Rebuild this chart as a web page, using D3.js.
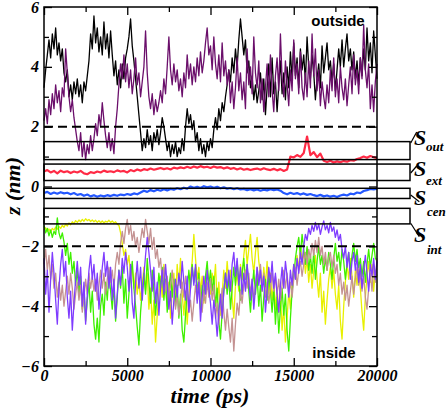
<!DOCTYPE html>
<html><head><meta charset="utf-8">
<script src="https://cdn.jsdelivr.net/npm/d3@7"></script>
<style>body{margin:0;background:#fff}svg{display:block}</style>
</head><body>
<svg id="c" width="448" height="410"></svg>
<script>
// each series spans 0..20000 ps, evenly sampled
const black = [
3.3,3.9,4.4,4.9,4.3,5.1,4.6,5.3,4.4,4.8,
4.2,4.6,3.8,3.5,3.9,3.0,3.4,2.9,3.5,3.1,
3.6,3.0,3.4,2.8,3.5,3.2,3.7,4.2,5.1,4.6,
5.7,4.8,5.3,4.5,5.0,4.4,5.5,4.6,5.1,4.3,
5.2,4.4,3.7,4.2,3.4,3.9,3.3,4.1,3.6,4.3,
4.6,5.0,5.6,4.7,4.2,3.6,3.0,2.4,1.8,1.2,
1.6,1.3,1.9,1.4,1.7,1.2,1.8,1.5,1.9,1.4,
1.8,2.3,2.0,1.6,1.2,1.5,1.0,1.4,1.1,1.5,
1.0,1.3,1.1,1.6,1.2,2.0,2.6,2.1,2.4,1.9,
2.2,1.5,1.8,1.2,1.6,1.1,1.4,1.0,1.5,1.2,
1.6,1.3,1.9,2.3,1.9,2.6,2.2,2.8,2.5,3.0,
3.4,3.9,3.5,4.3,3.8,4.6,4.0,4.9,5.6,5.0,
4.4,4.9,3.8,4.2,3.3,3.7,2.9,3.4,2.8,3.2,
3.8,2.9,3.6,2.4,3.3,4.1,3.0,4.3,3.1,3.5,
2.5,3.4,4.2,3.1,3.8,2.9,4.0,3.3,4.5,3.6,
4.8,3.7,4.3,3.3,4.6,3.9,4.4,3.5,5.0,4.0,
3.6,4.4,3.8,2.9,3.6,4.1,3.3,4.7,3.8,4.3,
4.8,3.9,4.2,3.5,4.1,3.2,3.9,4.6,4.0,4.9,
4.0,4.6,5.1,4.2,4.6,3.9,4.5,3.6,4.2,3.4,
4.3,3.7,4.6,3.9,5.3,4.2,4.8,3.8,5.2,4.4,
3.6];
const purple = [
2.2,2.6,2.1,2.9,2.4,3.1,2.6,3.4,2.8,3.2,
2.5,3.3,3.0,4.6,3.8,3.0,2.5,2.9,2.3,1.9,
1.5,1.2,1.8,1.0,1.5,0.9,1.4,1.1,1.7,1.2,
1.6,2.1,1.7,2.4,2.0,2.8,2.2,1.7,1.3,1.8,
1.2,1.6,1.1,2.0,2.6,3.4,4.1,3.6,4.4,3.5,
4.1,3.3,3.9,3.1,3.6,4.3,3.4,3.8,3.0,3.5,
4.0,5.2,3.8,3.0,2.6,3.1,2.4,2.9,2.5,2.8,
3.2,2.8,3.6,3.1,4.0,5.0,3.9,3.4,4.1,3.5,
3.9,3.2,3.6,3.0,3.8,3.3,4.4,3.6,4.1,3.4,
4.0,3.5,4.3,3.7,4.5,3.8,4.2,4.8,5.3,4.4,
4.7,3.9,5.0,4.1,3.6,4.4,3.5,4.8,3.7,4.2,
3.4,3.9,2.8,3.5,2.6,3.3,4.3,3.2,3.8,2.9,
3.5,2.6,4.6,3.4,4.0,3.1,5.0,3.8,3.3,4.2,
2.8,3.6,2.5,3.3,4.1,3.0,4.4,3.2,2.5,3.7,
4.3,3.2,5.1,3.6,3.0,4.2,3.4,2.7,3.9,3.2,
4.9,3.6,4.1,3.1,4.5,3.3,2.9,3.8,3.0,4.2,
3.3,5.1,3.7,4.6,3.2,3.9,2.7,3.5,3.0,2.6,
3.4,2.8,3.9,3.2,4.3,3.0,3.6,2.8,4.0,3.3,
2.9,3.6,2.7,3.4,4.0,3.1,4.4,3.4,3.9,3.1,
4.3,3.6,5.4,3.9,3.3,4.1,2.6,3.4,2.5,3.5,
4.1];
const red = [0.50,0.55,0.47,0.52,0.44,0.53,0.48,0.51,0.45,0.50,0.47,0.52,0.44,0.41,0.48,0.45,0.50,0.47,0.53,0.49,0.51,0.48,0.54,0.50,0.52,0.47,0.55,0.51,0.57,0.53,0.58,0.55,0.60,0.56,0.59,0.62,0.58,0.61,0.57,0.63,0.60,0.64,0.61,0.66,0.62,0.67,0.63,0.68,0.64,0.66,0.62,0.67,0.63,0.65,0.60,0.64,0.59,0.62,0.57,0.61,0.56,0.59,0.55,0.58,0.60,0.56,0.61,0.57,0.55,0.59,0.54,0.58,0.52,0.57,1.00,0.97,1.05,0.99,1.12,1.67,1.05,1.15,0.98,1.10,0.86,0.82,0.86,0.80,0.84,0.81,0.85,0.83,0.88,0.86,0.92,0.95,1.00,0.96,1.02,0.98,0.95];
const blue = [-0.22,-0.18,-0.25,-0.20,-0.24,-0.19,-0.23,-0.21,-0.26,-0.22,-0.28,-0.25,-0.31,-0.27,-0.33,-0.29,-0.34,-0.30,-0.33,-0.29,-0.32,-0.28,-0.31,-0.27,-0.29,-0.25,-0.28,-0.23,-0.26,-0.20,-0.14,-0.18,-0.12,-0.16,-0.11,-0.14,-0.09,-0.13,-0.08,-0.11,-0.06,-0.09,-0.04,-0.07,0.00,-0.04,-0.01,-0.05,0.01,-0.03,0.00,-0.04,-0.01,-0.06,-0.03,-0.07,-0.05,-0.09,-0.06,-0.10,-0.08,-0.12,-0.09,-0.13,-0.10,-0.14,-0.11,-0.13,-0.09,-0.12,-0.10,-0.14,-0.22,-0.26,-0.21,-0.25,-0.22,-0.27,-0.23,-0.28,-0.25,-0.29,-0.32,-0.28,-0.33,-0.30,-0.34,-0.31,-0.35,-0.30,-0.27,-0.30,-0.24,-0.26,-0.20,-0.22,-0.15,-0.12,-0.08,-0.10,-0.07];
const yellow = [
-1.45,-1.38,-1.50,-1.42,-1.52,-1.40,-1.46,-1.36,-1.43,-1.33,
-1.40,-1.30,-1.36,-1.26,-1.32,-1.22,-1.28,-1.18,-1.24,-1.14,
-1.20,-1.12,-1.18,-1.10,-1.16,-1.08,-1.14,-1.10,-1.17,-1.12,
-1.18,-1.13,-1.20,-1.14,-1.21,-1.15,-1.22,-1.16,-1.19,-1.13,
-1.20,-1.15,-1.22,-1.18,-1.26,-1.30,-1.55,-1.90,-2.30,-2.10,
-2.60,-2.30,-3.00,-2.70,-3.40,-2.90,-3.60,-3.10,-3.80,-3.30,
-2.70,-3.50,-2.90,-4.10,-3.40,-4.60,-3.80,-5.20,-4.30,-3.60,
-3.00,-3.70,-2.60,-3.40,-4.00,-3.20,-4.40,-3.50,-2.90,-3.80,
-2.60,-3.30,-2.40,-3.60,-4.30,-3.50,-4.60,-3.70,-3.00,-2.50,
-1.60,-2.40,-3.10,-2.70,-3.50,-3.00,-3.90,-3.20,-2.70,-3.40,
-3.60,-2.90,-3.30,-2.60,-3.90,-3.20,-4.30,-3.60,-2.80,-3.40,
-2.50,-3.20,-2.80,-3.70,-4.40,-3.30,-2.90,-3.50,-2.60,-3.10,
-2.30,-1.80,-2.60,-2.10,-1.60,-2.40,-2.90,-2.20,-1.70,-2.50,
-2.90,-3.50,-2.70,-3.30,-2.50,-3.60,-2.90,-3.80,-3.20,-4.10,
-3.40,-4.20,-3.60,-4.80,-4.00,-5.20,-4.40,-3.50,-4.10,-3.20,
-2.60,-3.00,-2.30,-2.80,-2.00,-2.50,-2.20,-2.90,-2.40,-3.20,
-2.60,-3.40,-2.80,-2.30,-3.10,-3.70,-2.90,-4.20,-3.50,-4.60,
-3.80,-3.10,-2.70,-3.40,-2.80,-3.60,-4.10,-3.30,-4.50,-5.10,
-4.00,-3.20,-2.60,-3.10,-2.40,-3.00,-3.70,-2.80,-3.30,-2.60,
-3.40,-4.20,-4.80,-3.70,-3.00,-2.50,-3.20,-2.60,-3.50,-2.80,
-3.00];
const green = [
-1.30,-1.55,-1.40,-1.65,-1.45,-1.70,-1.50,-1.60,-1.05,-1.55,
-1.75,-1.55,-1.85,-2.30,-1.90,-2.60,-2.20,-2.90,-2.50,-3.30,
-2.80,-3.60,-3.00,-4.10,-3.40,-4.50,-3.80,-3.20,-4.20,-3.50,
-4.60,-5.10,-4.40,-5.20,-4.00,-3.60,-4.30,-3.20,-3.80,-2.90,
-3.50,-4.10,-3.30,-4.50,-3.70,-2.80,-3.40,-2.70,-3.90,-3.10,
-4.40,-3.60,-3.00,-2.50,-3.40,-4.00,-4.70,-5.30,-4.20,-3.50,
-2.90,-3.60,-2.40,-3.20,-3.90,-2.80,-3.50,-4.30,-3.60,-2.90,
-3.40,-2.70,-3.80,-3.10,-4.20,-3.40,-2.90,-3.70,-3.10,-4.00,
-3.30,-4.40,-3.60,-4.80,-5.20,-4.30,-3.50,-2.80,-3.40,-2.60,
-3.20,-2.70,-3.60,-2.90,-4.10,-3.30,-3.80,-3.00,-2.50,-3.30,
-2.80,-3.50,-3.00,-4.00,-3.40,-4.50,-5.10,-4.20,-3.50,-2.90,
-3.60,-3.00,-4.10,-3.40,-2.70,-3.30,-2.50,-3.20,-3.80,-2.90,
-2.40,-3.10,-2.60,-3.50,-4.20,-3.40,-2.80,-3.60,-3.00,-4.00,
-3.30,-4.50,-3.70,-3.10,-3.80,-2.90,-3.50,-4.20,-3.40,-4.60,
-3.70,-4.90,-4.10,-3.40,-4.30,-3.60,-4.80,-5.50,-4.40,-3.50,
-3.00,-2.40,-2.00,-1.70,-2.30,-1.60,-2.10,-2.60,-2.00,-2.80,
-2.30,-2.90,-2.20,-3.10,-2.50,-2.00,-2.60,-2.30,-2.90,-2.40,
-2.80,-2.20,-2.60,-3.10,-2.40,-1.90,-2.50,-2.20,-2.80,-2.10,
-2.50,-3.10,-2.60,-2.20,-2.80,-2.30,-1.90,-2.50,-2.10,-2.70,
-2.40,-3.00,-2.50,-3.20,-2.60,-2.10,-2.70,-2.30,-1.90,-2.40,
-2.50];
const violet = [
-2.40,-3.60,-2.80,-4.20,-3.10,-2.20,-2.90,-3.80,-4.60,-3.40,
-2.60,-2.10,-3.00,-2.50,-3.70,-4.40,-3.50,-4.80,-3.90,-3.10,
-2.50,-3.30,-2.70,-4.00,-3.20,-4.60,-3.60,-2.80,-2.30,-3.10,
-2.60,-3.50,-2.90,-4.10,-3.40,-2.70,-2.20,-3.00,-2.50,-3.40,
-2.70,-3.80,-3.10,-4.40,-3.60,-2.80,-3.30,-2.40,-2.90,-2.20,
-2.70,-3.50,-2.60,-3.90,-4.40,-3.20,-2.50,-3.40,-2.70,-3.80,
-3.00,-2.30,-1.70,-2.20,-2.80,-3.50,-2.70,-3.90,-3.20,-4.30,
-3.40,-2.80,-3.60,-2.60,-3.30,-4.10,-3.50,-4.60,-3.80,-3.10,
-3.70,-2.90,-3.40,-2.50,-3.20,-3.80,-3.00,-4.20,-3.40,-2.70,
-3.30,-2.60,-3.90,-3.20,-4.50,-3.70,-3.00,-3.60,-2.80,-3.40,
-3.90,-4.60,-3.80,-4.30,-5.00,-4.20,-3.60,-4.40,-3.50,-2.90,
-3.40,-2.80,-3.50,-2.60,-2.20,-3.00,-2.40,-3.30,-2.70,-3.60,
-2.90,-3.50,-2.60,-3.20,-3.80,-3.10,-4.10,-3.40,-2.70,-3.30,
-2.80,-3.50,-3.00,-4.20,-3.50,-2.70,-3.20,-2.50,-3.40,-2.90,
-3.60,-4.20,-3.30,-2.70,-3.40,-2.50,-3.00,-3.70,-2.80,-3.30,
-2.60,-3.10,-2.40,-2.90,-2.20,-2.60,-2.00,-1.60,-1.80,-1.40,
-1.60,-1.30,-1.50,-1.20,-1.45,-1.25,-1.60,-1.35,-1.15,-1.45,
-1.30,-1.55,-1.20,-1.50,-1.35,-1.70,-1.45,-1.80,-1.60,-2.10,
-2.40,-2.00,-2.70,-2.20,-3.10,-2.50,-2.20,-2.80,-2.30,-3.20,
-2.60,-3.40,-2.80,-2.30,-2.90,-3.50,-2.60,-3.00,-2.40,-3.10,
-2.50];
const pink = [
-2.60,-2.10,-2.80,-2.30,-3.10,-2.60,-3.40,-2.90,-3.70,-3.20,
-3.80,-3.30,-4.00,-3.50,-3.00,-3.60,-2.90,-3.40,-4.10,-3.60,
-3.20,-3.80,-3.30,-4.20,-3.70,-3.10,-3.60,-2.90,-3.40,-3.00,
-3.50,-3.10,-3.80,-3.30,-2.80,-3.40,-2.90,-3.60,-3.10,-2.70,
-3.20,-2.80,-3.40,-2.60,-2.20,-2.60,-1.90,-1.50,-1.90,-1.40,
-1.10,-1.60,-1.30,-1.80,-1.50,-2.00,-1.70,-2.20,-1.80,-1.40,
-1.70,-1.10,-1.50,-1.90,-1.40,-2.10,-1.70,-2.40,-2.10,-2.70,
-2.40,-3.10,-2.70,-3.50,-3.00,-3.80,-3.30,-2.80,-3.50,-4.10,
-3.60,-4.30,-3.80,-3.20,-3.70,-3.00,-3.50,-4.20,-3.80,-4.50,
-3.90,-3.30,-3.80,-3.10,-3.60,-4.20,-3.50,-3.90,-3.20,-3.70,
-3.10,-3.80,-3.30,-4.40,-3.90,-4.60,-4.00,-3.40,-4.20,-4.80,
-4.10,-4.70,-5.20,-4.40,-5.50,-4.60,-3.90,-4.30,-3.50,-3.90,
-3.30,-2.80,-3.40,-2.90,-3.60,-3.10,-3.80,-3.30,-2.70,-3.20,
-2.60,-3.30,-2.90,-3.70,-3.20,-3.90,-3.40,-2.90,-3.50,-3.00,
-3.60,-3.10,-3.80,-3.30,-2.80,-3.40,-2.90,-3.60,-3.20,-3.70,
-3.10,-2.70,-3.30,-2.80,-2.50,-3.00,-2.60,-2.20,-2.60,-2.10,
-2.40,-1.90,-2.30,-1.80,-2.20,-1.70,-2.30,-2.00,-2.60,-2.20,
-2.80,-2.40,-2.20,-2.70,-2.30,-2.90,-2.60,-3.30,-2.90,-3.60,
-3.20,-3.80,-3.30,-4.00,-3.50,-3.00,-3.60,-3.10,-2.70,-3.30,
-2.90,-3.50,-3.00,-3.70,-4.10,-3.40,-2.90,-3.50,-2.60,-3.20,
-2.40];

const seriesValues = [black,purple,red,blue,yellow,green,pink,violet];
const seriesColors = ["#000000","#6b0f6b","#ff2a45","#2458ff","#e8f000","#3ef000","#c49292","#7f3cff"];
const seriesWidths = [1.3,1.3,2.2,2.2,1.3,1.3,1.3,1.3];

const xTicksMajor = [0,5000,10000,15000,20000];
const xTicksMinor = [2500,7500,12500,17500];
const yTicksMajor = [-6,-4,-2,0,2,4,6];
const yTicksMinor = [-5,-3,-1,1,3,5];
const dashedLevels = [2,-2];
const regionNames = ["out","ext","cen","int"];
const regionLow = [0.9,0.2,-0.4,-1.25];
const regionHigh = [1.5,0.75,-0.06,-0.73];

const svg = d3.select("#c");
const L=44,R=377,T=7,B=366;
const x = d3.scaleLinear().domain([0,20000]).range([L,R]);
const y = d3.scaleLinear().domain([-6,6]).range([B,T]);

const gL = svg.append("g");
seriesValues.forEach((vals,k)=>{
  const step = 20000/(vals.length-1);
  const line = d3.line().x((d,i)=>x(i*step)).y(d=>y(d));
  gL.append("path").attr("d",line(vals)).attr("fill","none")
    .attr("stroke",seriesColors[k]).attr("stroke-width",seriesWidths[k]).attr("stroke-linejoin","round");
});

dashedLevels.forEach(v=>{
  svg.append("line").attr("x1",L).attr("x2",R).attr("y1",y(v)).attr("y2",y(v))
    .attr("stroke","#000").attr("stroke-width",2).attr("stroke-dasharray","9,5");
});

regionNames.forEach((n,i)=>{
  svg.append("rect").attr("x",L).attr("width",410-L)
    .attr("y",y(regionHigh[i])).attr("height",y(regionLow[i])-y(regionHigh[i]))
    .attr("fill","none").attr("stroke","#000").attr("stroke-width",1.5);
});

const fontAx = "'Liberation Serif','Times New Roman',serif";
function styleAxis(g){
  g.select(".domain").remove();
  g.selectAll("line").attr("stroke","#000").attr("stroke-width",1.3);
  g.selectAll("text").attr("font-family",fontAx).attr("font-weight","bold")
    .attr("font-style","italic").attr("font-size",16).attr("fill","#000");
}
svg.append("g").attr("transform",`translate(0,${B})`)
  .call(d3.axisBottom(x).tickValues(xTicksMajor).tickSize(-8).tickPadding(4).tickFormat(d3.format("d"))).call(styleAxis);
svg.append("g").attr("transform",`translate(0,${B})`)
  .call(d3.axisBottom(x).tickValues(xTicksMinor).tickSize(-5).tickFormat("")).call(styleAxis);
svg.append("g").attr("transform",`translate(0,${T})`)
  .call(d3.axisTop(x).tickValues(xTicksMajor).tickSize(-8).tickFormat("")).call(styleAxis);
svg.append("g").attr("transform",`translate(0,${T})`)
  .call(d3.axisTop(x).tickValues(xTicksMinor).tickSize(-5).tickFormat("")).call(styleAxis);
svg.append("g").attr("transform",`translate(${L},0)`)
  .call(d3.axisLeft(y).tickValues(yTicksMajor).tickSize(-8).tickPadding(5).tickFormat(d3.format("d"))).call(styleAxis);
svg.append("g").attr("transform",`translate(${L},0)`)
  .call(d3.axisLeft(y).tickValues(yTicksMinor).tickSize(-5).tickFormat("")).call(styleAxis);
svg.append("g").attr("transform",`translate(${R},0)`)
  .call(d3.axisRight(y).tickValues(yTicksMajor).tickSize(-8).tickFormat("")).call(styleAxis);
svg.append("g").attr("transform",`translate(${R},0)`)
  .call(d3.axisRight(y).tickValues(yTicksMinor).tickSize(-5).tickFormat("")).call(styleAxis);

svg.append("rect").attr("x",L).attr("y",T).attr("width",R-L).attr("height",B-T)
  .attr("fill","none").attr("stroke","#000").attr("stroke-width",1.5);

svg.append("text").attr("x",210).attr("y",403).attr("text-anchor","middle")
  .attr("font-family",fontAx).attr("font-weight","bold").attr("font-style","italic")
  .attr("font-size",22).text("time (ps)");
svg.append("text").attr("transform","translate(20,186) rotate(-90)").attr("text-anchor","middle")
  .attr("font-family",fontAx).attr("font-weight","bold").attr("font-style","italic")
  .attr("font-size",22).text("z (nm)");

const fontSans = "'Liberation Sans',Arial,sans-serif";
svg.append("text").attr("x",338).attr("y",26).attr("text-anchor","middle")
  .attr("font-family",fontSans).attr("font-weight","bold").attr("font-size",15).text("outside");
svg.append("text").attr("x",334).attr("y",358).attr("text-anchor","middle")
  .attr("font-family",fontSans).attr("font-weight","bold").attr("font-size",15).text("inside");

const sBase = [145,176,205,242];
const subBase = [151,185,216,254];
const subX = [426,426,427,427];
const conn = [[410.7,143,416.7,132],[410.7,173,416.7,166],[410.7,195,419.3,201.7],[410.7,223.3,419.3,236.7]];
regionNames.forEach((n,i)=>{
  svg.append("line").attr("x1",conn[i][0]).attr("y1",conn[i][1]).attr("x2",conn[i][2]).attr("y2",conn[i][3])
    .attr("stroke","#000").attr("stroke-width",1.2);
  svg.append("text").attr("x",414).attr("y",sBase[i]).attr("font-family",fontAx)
    .attr("font-weight","bold").attr("font-style","italic").attr("font-size",22).text("S");
  svg.append("text").attr("x",subX[i]).attr("y",subBase[i]).attr("font-family",fontAx)
    .attr("font-weight","bold").attr("font-style","italic").attr("font-size",13).text(n);
});
</script>
</body></html>
